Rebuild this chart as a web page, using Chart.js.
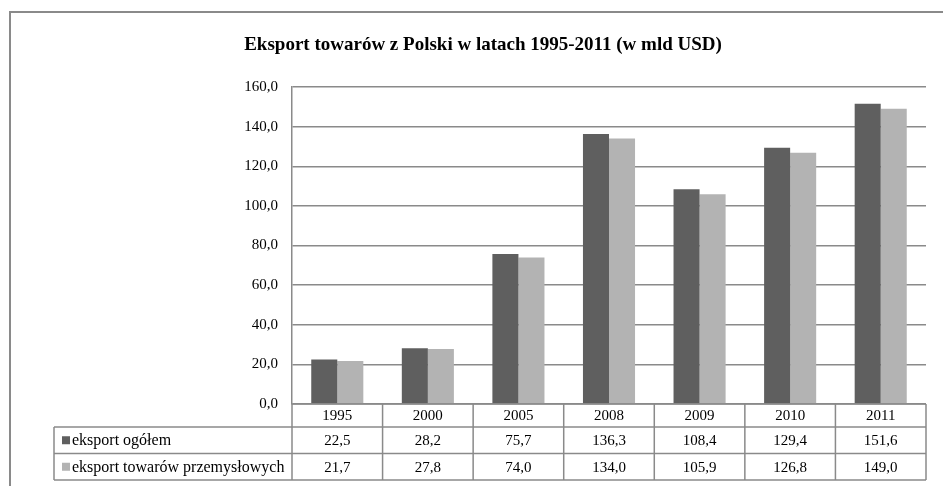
<!DOCTYPE html>
<html><head><meta charset="utf-8">
<script src="https://cdn.jsdelivr.net/npm/chart.js@4"></script>
<style>html,body{margin:0;padding:0;background:#fff}#w{width:943px;height:486px}</style>
</head><body><div id="w"><canvas id="c"></canvas></div>
<script>
const titleText = 'Eksport towarów z Polski w latach 1995-2011 (w mld USD)';
const categories = ['1995','2000','2005','2008','2009','2010','2011'];
const seriesNames = ['eksport ogółem','eksport towarów przemysłowych'];
const exportTotal = [22.5, 28.2, 75.7, 136.3, 108.4, 129.4, 151.6];
const exportIndustrial = [21.7, 27.8, 74.0, 134.0, 105.9, 126.8, 149.0];
const yTicks = [0,20,40,60,80,100,120,140,160];

const FONT = '"Liberation Serif","Times New Roman",serif';
const GRID = '#8a8a8a';
const COLORS = ['#5f5f5f','#b3b3b3'];
const fmt = v => v.toFixed(1).replace('.', ',');

const tablePlugin = {
  id: 'tablePlugin',
  afterDraw(chart) {
    const ctx = chart.ctx, ca = chart.chartArea, xs = chart.scales.x;
    const rowH = [23, 26.5, 26.5];
    const y0 = ca.bottom, y1 = y0 + rowH[0], y2 = y1 + rowH[1], y3 = y2 + rowH[2];
    const leftT = 54;
    const n = categories.length;
    const step = (ca.right - ca.left) / n;
    ctx.save();
    // outer frame
    ctx.strokeStyle = '#8a8a8a'; ctx.lineWidth = 2;
    ctx.beginPath(); ctx.moveTo(10, 486); ctx.lineTo(10, 12); ctx.lineTo(943, 12); ctx.stroke();
    // title
    ctx.fillStyle = '#000'; ctx.font = 'bold 19px ' + FONT;
    ctx.textAlign = 'center'; ctx.textBaseline = 'alphabetic';
    ctx.fillText(titleText, 483, 50);
    // table lines
    ctx.strokeStyle = GRID; ctx.lineWidth = 1.5;
    ctx.beginPath();
    ctx.moveTo(ca.left, y0); ctx.lineTo(ca.right, y0);
    ctx.moveTo(leftT, y1); ctx.lineTo(ca.right, y1);
    ctx.moveTo(leftT, y2); ctx.lineTo(ca.right, y2);
    ctx.moveTo(leftT, y3); ctx.lineTo(ca.right, y3);
    ctx.moveTo(leftT, y1); ctx.lineTo(leftT, y3);
    for (let i = 0; i <= n; i++) {
      const x = ca.left + step * i;
      ctx.moveTo(x, y0); ctx.lineTo(x, y3);
    }
    ctx.stroke();
    // text
    ctx.fillStyle = '#000'; ctx.font = '15px ' + FONT;
    ctx.textAlign = 'center'; ctx.textBaseline = 'middle';
    const vals = [exportTotal, exportIndustrial];
    for (let i = 0; i < n; i++) {
      const cx = xs.getPixelForValue(i);
      ctx.fillText(categories[i], cx, (y0 + y1) / 2 + 1);
      ctx.fillText(fmt(vals[0][i]), cx, (y1 + y2) / 2 + 1);
      ctx.fillText(fmt(vals[1][i]), cx, (y2 + y3) / 2 + 1);
    }
    // legend keys
    ctx.textAlign = 'left'; ctx.font = '16px ' + FONT;
    [[y1, y2], [y2, y3]].forEach((r, k) => {
      const cy = (r[0] + r[1]) / 2;
      ctx.fillStyle = COLORS[k];
      ctx.fillRect(62, cy - 4, 8, 8);
      ctx.fillStyle = '#000';
      ctx.fillText(seriesNames[k], 72, cy + 1);
    });
    ctx.restore();
  }
};

new Chart(document.getElementById('c'), {
  type: 'bar',
  data: {
    labels: categories,
    datasets: [
      { label: seriesNames[0], data: exportTotal, backgroundColor: COLORS[0] },
      { label: seriesNames[1], data: exportIndustrial, backgroundColor: COLORS[1] }
    ]
  },
  options: {
    responsive: true, maintainAspectRatio: false, animation: false,
    devicePixelRatio: 1,
    layout: { padding: { top: 87, left: 92, right: 17, bottom: 82 } },
    datasets: { bar: { categoryPercentage: 0.575, barPercentage: 1.0 } },
    plugins: { legend: { display: false }, title: { display: false }, tooltip: { enabled: false } },
    scales: {
      x: { display: false, grid: { display: false } },
      y: {
        min: 0, max: 160,
        afterFit(s) { s.width = 200; },
        afterBuildTicks(s) { s.ticks = yTicks.map(v => ({ value: v })); },
        ticks: { color: '#000', font: { family: FONT, size: 15 }, padding: 14, callback: v => fmt(v) },
        grid: { color: GRID, lineWidth: 1.5, drawTicks: false },
        border: { display: true, color: GRID, width: 1.5 }
      }
    }
  },
  plugins: [tablePlugin]
});
</script>
</body></html>
